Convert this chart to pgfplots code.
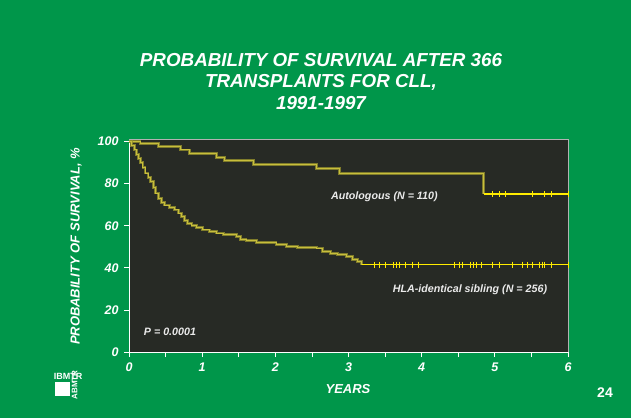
\documentclass[border=0pt]{standalone}
\usepackage{pgfplots}
\pgfplotsset{compat=1.18}
\usepackage{fontspec}
\setmainfont{Liberation Sans}
\definecolor{bggreen}{RGB}{0,150,74}
\definecolor{plotbg}{RGB}{39,42,37}
\definecolor{olive}{RGB}{150,145,45}
\definecolor{olivein}{RGB}{200,190,60}
\definecolor{brightyel}{RGB}{255,235,0}
\definecolor{anntext}{RGB}{235,235,235}
\begin{document}
\begin{tikzpicture}[x=1pt,y=1pt]
\fill[bggreen] (0,0) rectangle (631,418);
\node[white,font=\fontsize{18.8}{21}\selectfont\bfseries\itshape] at (321,358) {PROBABILITY OF SURVIVAL AFTER 366};
\node[white,font=\fontsize{18.8}{21}\selectfont\bfseries\itshape] at (321,336) {TRANSPLANTS FOR CLL,};
\node[white,font=\fontsize{18.8}{21}\selectfont\bfseries\itshape] at (321,315) {1991-1997};
\node[white,font=\fontsize{14}{16}\selectfont\bfseries] at (605,25.5) {24};
% logo
\fill[white] (55,22) rectangle (70,36);
\node[white,font=\fontsize{9}{10}\selectfont\bfseries,inner sep=0pt] at (68,42) {IBMTR};
\node[white,font=\fontsize{8}{9}\selectfont\bfseries,inner sep=0pt,rotate=90] at (74.5,33) {ABMTR};
\begin{axis}[
  at={(129pt,66pt)}, anchor=south west,
  scale only axis, width=439pt, height=213pt,
  xmin=0, xmax=6, ymin=0, ymax=101.2,
  axis background/.style={fill=plotbg},
  axis lines*=left,
  axis line style={white, line width=0.8pt},
  tick style={white, line width=0.8pt},
  tick align=outside,
  major tick length=5pt,
  xtick={0,1,2,3,4,5,6},
  minor xtick={0.5,1.5,2.5,3.5,4.5,5.5},
  minor tick length=5pt,
  ytick={0,20,40,60,80,100},
  /pgf/number format/assume math mode=true,
  ticklabel style={white, font=\fontsize{12.5}{14}\selectfont\bfseries\itshape},
  xticklabel style={yshift=-2.5pt},
  yticklabel style={xshift=-2pt},
  xlabel={YEARS},
  ylabel={PROBABILITY OF SURVIVAL, \%},
  label style={white, font=\fontsize{13}{15}\selectfont\bfseries\itshape},
  xlabel style={at={(axis description cs:0.5,0)}, anchor=center, yshift=-37pt, xshift=-0.5pt},
  ylabel style={at={(axis description cs:0,0.5)}, anchor=center, yshift=53pt, xshift=-1pt},
  clip=false,
]
\draw[gray!60, line width=0.5pt] (rel axis cs:0,1) -- (rel axis cs:1,1) -- (rel axis cs:1,0);
% Autologous
\addplot[const plot, olive, line width=2.8pt, opacity=0.8] coordinates {
(0,100) (0.15,99.2) (0.40,97.6) (0.70,96.0) (0.83,94.5) (1.20,92.6) (1.30,90.8) (1.70,89.0) (2.56,87.0) (2.88,84.8) (4.85,75)};
\addplot[const plot, olivein, line width=0.9pt] coordinates {
(0,100) (0.15,99.2) (0.40,97.6) (0.70,96.0) (0.83,94.5) (1.20,92.6) (1.30,90.8) (1.70,89.0) (2.56,87.0) (2.88,84.8) (4.85,75)};
\addplot[brightyel, line width=1.4pt] coordinates {(4.85,75) (6.0,75)};
\addplot[only marks, mark=|, mark size=3pt, brightyel, mark options={line width=0.8pt}] coordinates {
(4.97,75) (5.06,75) (5.15,75) (5.51,75) (5.68,75) (5.77,75) (6.0,75)};
% HLA-identical sibling
\addplot[const plot, olive, line width=2.8pt, opacity=0.8] coordinates {
(0,100) (0.03,98) (0.07,96) (0.10,94) (0.13,92) (0.16,90) (0.19,87.5) (0.22,85) (0.26,83) (0.29,81) (0.33,78) (0.36,75.5) (0.40,73) (0.44,71) (0.48,69.8) (0.55,68.5) (0.62,67.5) (0.68,66) (0.72,64.5) (0.76,62.5) (0.80,61) (0.86,60) (0.92,59) (1.00,58) (1.10,57.3) (1.20,56.5) (1.29,55.7) (1.47,54.8) (1.52,53.5) (1.60,53) (1.74,52) (2.01,51.2) (2.15,50.3) (2.30,49.8) (2.56,49.4) (2.65,47.8) (2.75,46.8) (2.85,46.2) (2.97,45.3) (3.05,44) (3.12,43) (3.18,41.5)};
\addplot[const plot, olivein, line width=0.9pt] coordinates {
(0,100) (0.03,98) (0.07,96) (0.10,94) (0.13,92) (0.16,90) (0.19,87.5) (0.22,85) (0.26,83) (0.29,81) (0.33,78) (0.36,75.5) (0.40,73) (0.44,71) (0.48,69.8) (0.55,68.5) (0.62,67.5) (0.68,66) (0.72,64.5) (0.76,62.5) (0.80,61) (0.86,60) (0.92,59) (1.00,58) (1.10,57.3) (1.20,56.5) (1.29,55.7) (1.47,54.8) (1.52,53.5) (1.60,53) (1.74,52) (2.01,51.2) (2.15,50.3) (2.30,49.8) (2.56,49.4) (2.65,47.8) (2.75,46.8) (2.85,46.2) (2.97,45.3) (3.05,44) (3.12,43) (3.18,41.5)};
\addplot[brightyel, line width=1.4pt] coordinates {(3.18,41.5) (6.0,41.5)};
\addplot[only marks, mark=|, mark size=3pt, brightyel, mark options={line width=0.8pt}] coordinates {
(3.35,41.5) (3.42,41.5) (3.51,41.5) (3.61,41.5) (3.65,41.5) (3.70,41.5) (3.78,41.5) (3.87,41.5) (3.96,41.5) (4.45,41.5) (4.51,41.5) (4.56,41.5) (4.66,41.5) (4.71,41.5) (4.75,41.5) (4.81,41.5) (4.97,41.5) (5.06,41.5) (5.24,41.5) (5.37,41.5) (5.44,41.5) (5.51,41.5) (5.61,41.5) (5.65,41.5) (5.68,41.5) (5.77,41.5) (6.0,41.5)};
\node[anntext, font=\fontsize{10.7}{12}\selectfont\bfseries\itshape] at (axis cs:3.49,73.7) {Autologous (N = 110)};
\node[anntext, font=\fontsize{10.7}{12}\selectfont\bfseries\itshape] at (axis cs:4.66,29.8) {HLA-identical sibling (N = 256)};
\node[anntext, font=\fontsize{10.7}{12}\selectfont\bfseries\itshape] at (axis cs:0.56,9.7) {P = 0.0001};
\end{axis}
\end{tikzpicture}
\end{document}
